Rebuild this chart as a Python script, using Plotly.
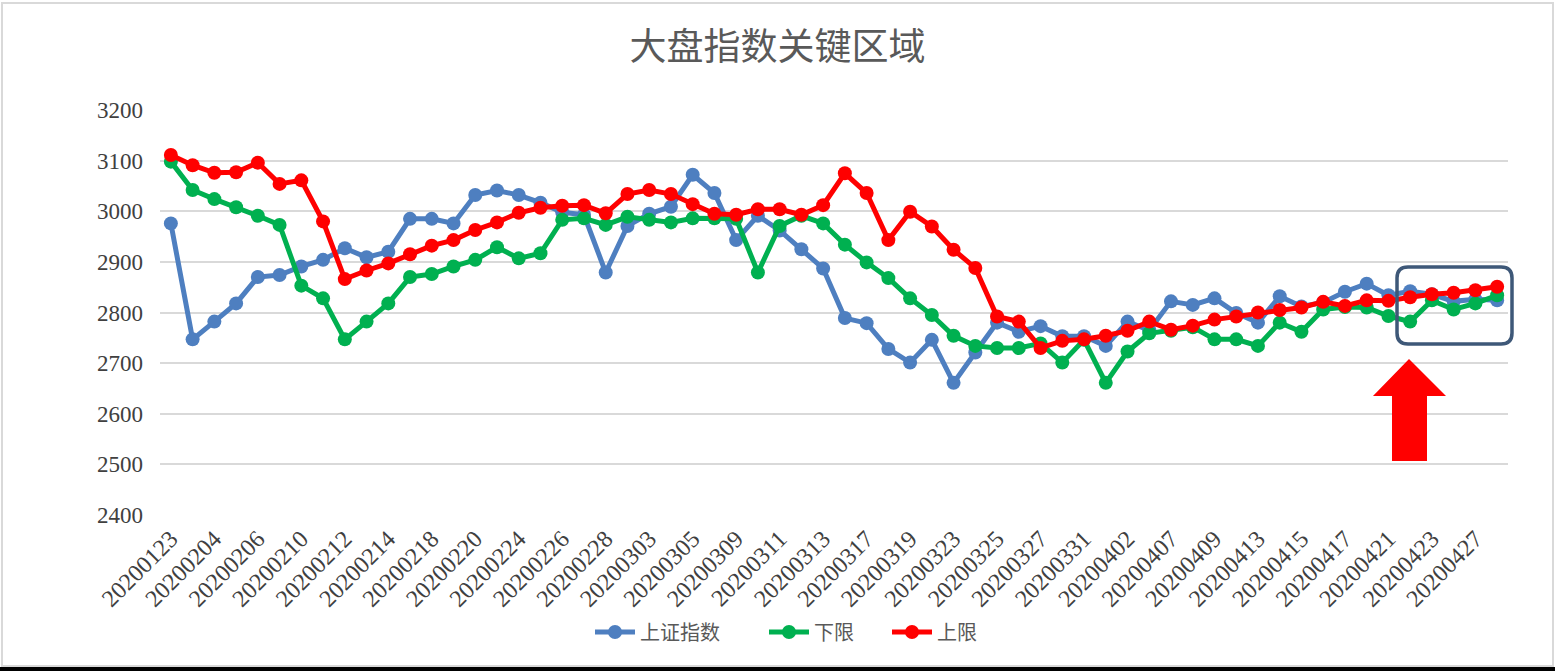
import plotly.graph_objects as go

dates = ["20200123", "20200203", "20200204", "20200205", "20200206", "20200207", "20200210", "20200211",
         "20200212", "20200213", "20200214", "20200217", "20200218", "20200219", "20200220", "20200221",
         "20200224", "20200225", "20200226", "20200227", "20200228", "20200302", "20200303", "20200304",
         "20200305", "20200306", "20200309", "20200310", "20200311", "20200312", "20200313", "20200316",
         "20200317", "20200318", "20200319", "20200320", "20200323", "20200324", "20200325", "20200326",
         "20200327", "20200330", "20200331", "20200401", "20200402", "20200403", "20200407", "20200408",
         "20200409", "20200410", "20200413", "20200414", "20200415", "20200416", "20200417", "20200420",
         "20200421", "20200422", "20200423", "20200424", "20200427", "20200428"]

sh_index = [2976, 2747, 2782, 2818, 2870, 2874, 2891, 2904, 2927, 2909, 2920, 2985, 2985, 2976, 3032, 3041,
            3032, 3017, 2998, 2993, 2879, 2971, 2995, 3009, 3072, 3036, 2943, 2991, 2962, 2925, 2887, 2789,
            2779, 2728, 2701, 2746, 2661, 2721, 2780, 2762, 2773, 2753, 2753, 2734, 2782, 2765, 2822, 2815,
            2828, 2799, 2780, 2832, 2812, 2820, 2841, 2857, 2834, 2842, 2836, 2822, 2826, 2824]

lower = [3098, 3042, 3024, 3008, 2991, 2973, 2853, 2828, 2747, 2782, 2818, 2870, 2876, 2891, 2904, 2929,
         2907, 2917, 2983, 2986, 2973, 2989, 2983, 2978, 2986, 2986, 2985, 2879, 2971, 2991, 2976, 2934,
         2899, 2868, 2828, 2795, 2754, 2734, 2730, 2730, 2739, 2701, 2746, 2661, 2723, 2759, 2764, 2771,
         2747, 2747, 2734, 2780, 2762, 2806, 2811, 2810, 2793, 2782, 2824, 2806, 2818, 2834]

upper = [3111, 3091, 3076, 3077, 3096, 3054, 3061, 2980, 2866, 2883, 2897, 2915, 2932, 2943, 2963, 2978,
         2997, 3007, 3011, 3012, 2996, 3034, 3042, 3034, 3014, 2995, 2993, 3004, 3004, 2993, 3012, 3075,
         3036, 2943, 2999, 2970, 2924, 2888, 2792, 2782, 2730, 2744, 2747, 2754, 2764, 2782, 2766, 2774,
         2786, 2792, 2800, 2805, 2810, 2821, 2813, 2824, 2823, 2830, 2836, 2839, 2844, 2851]

tick_labels = dates[::2]
y_ticks = [2400, 2500, 2600, 2700, 2800, 2900, 3000, 3100, 3200]

series = [("上证指数", sh_index, "#4E7FC0"), ("下限", lower, "#00B050"), ("上限", upper, "#FF0000")]

W, H = 1555, 671
L, R, T, B = 160, 1508, 110, 515


def px(x):
    return (x - L) / (R - L)


def py(y):
    return (B - y) / (B - T)


fig = go.Figure()
legend_ids = ["legend", "legend2", "legend3"]
for (name, vals, col), lid in zip(series, legend_ids):
    fig.add_trace(go.Scatter(
        x=dates, y=vals, name=name, mode="lines+markers",
        line=dict(color=col, width=5),
        marker=dict(color=col, size=14),
        legend=lid,
    ))

# rounded rectangle highlight
x0, x1, y0, y1, r = 1397, 1512, 267, 344, 11
pts = [
    ("M", x0 + r, y0), ("L", x1 - r, y0), ("Q", x1, y0, x1, y0 + r), ("L", x1, y1 - r),
    ("Q", x1, y1, x1 - r, y1), ("L", x0 + r, y1), ("Q", x0, y1, x0, y1 - r), ("L", x0, y0 + r),
    ("Q", x0, y0, x0 + r, y0),
]
path = ""
for p in pts:
    if p[0] == "Q":
        path += f"Q{px(p[1]):.5f},{py(p[2]):.5f} {px(p[3]):.5f},{py(p[4]):.5f} "
    else:
        path += f"{p[0]}{px(p[1]):.5f},{py(p[2]):.5f} "
path += "Z"

arrow_pts = [(1409, 359), (1446, 396), (1427, 396), (1427, 461), (1392, 461), (1392, 396), (1373, 396)]
arrow_path = "M" + " L".join(f"{px(a):.5f},{py(b):.5f}" for a, b in arrow_pts) + " Z"

shapes = [
    dict(type="path", xref="paper", yref="paper", path=path,
         line=dict(color="#3E5878", width=3.5), fillcolor="rgba(0,0,0,0)"),
    dict(type="path", xref="paper", yref="paper", path=arrow_path,
         line=dict(width=0), fillcolor="#FF0000"),
    dict(type="rect", xref="paper", yref="paper", x0=px(2), x1=px(1553), y0=py(3), y1=py(666),
         line=dict(color="#D9D9D9", width=2), fillcolor="rgba(0,0,0,0)", layer="below"),
    dict(type="rect", xref="paper", yref="paper", x0=px(0), x1=px(1555), y0=py(667), y1=py(671),
         line=dict(width=0), fillcolor="#000000"),
]

leg_common = dict(orientation="h", y=py(632), yanchor="middle", xanchor="left",
                  font=dict(family="Noto Sans CJK SC", size=20, color="#595959"),
                  itemwidth=40, bgcolor="rgba(0,0,0,0)", borderwidth=0)

fig.update_layout(
    width=W, height=H,
    margin=dict(l=L, r=W - R, t=T, b=H - B),
    paper_bgcolor="white", plot_bgcolor="white",
    title=dict(text="大盘指数关键区域", x=0.5, xanchor="center", y=1 - 47 / H, yanchor="middle",
               yref="container", font=dict(family="Noto Sans CJK SC", size=37, color="#595959")),
    showlegend=True,
    legend=dict(x=px(590), **leg_common),
    legend2=dict(x=px(764), **leg_common),
    legend3=dict(x=px(887), **leg_common),
    shapes=shapes,
    hovermode=False,
)
fig.update_xaxes(
    type="category", categoryorder="array", categoryarray=dates,
    range=[-0.5, len(dates) - 0.5],
    tickmode="array", tickvals=tick_labels, ticktext=tick_labels,
    tickangle=-45, tickfont=dict(family="Liberation Serif", size=24, color="#404040"),
    showgrid=False, showline=False, zeroline=False, automargin=False, ticks="",
    ticklabelstandoff=4,
)
fig.update_yaxes(
    range=[2400, 3200], tickmode="array", tickvals=y_ticks,
    tickfont=dict(family="Liberation Serif", size=23, color="#404040"),
    showgrid=True, gridcolor="#D9D9D9", gridwidth=1.5, zeroline=False, showline=False,
    automargin=False, ticks="", ticklabelstandoff=16,
)

fig.write_html("out.html", config={"displayModeBar": False},
               post_script="document.body.style.margin='0px';document.body.style.overflow='hidden';")
